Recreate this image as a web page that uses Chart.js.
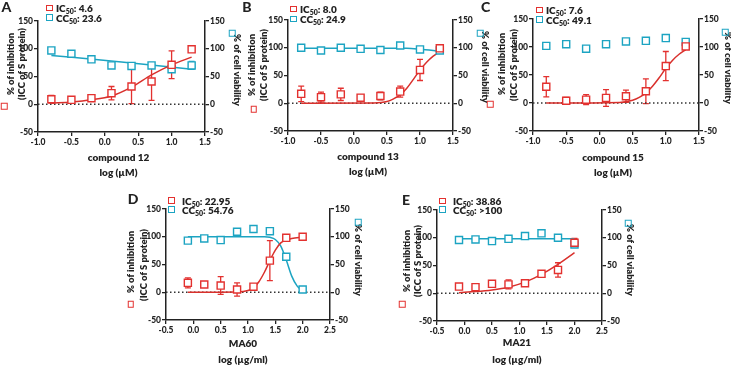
<!DOCTYPE html>
<html lang="en">
<head>
<meta charset="UTF-8" />
<title>IC50 / CC50 panels</title>
<script src="https://cdn.jsdelivr.net/npm/chart.js"></script>
<style>
  body { margin:0; width:731px; height:366px; position:relative; overflow:hidden; background:#fff;
         font-family: Lato, 'Open Sans', sans-serif; font-weight:800; color:#222; }
  canvas { position:absolute; z-index:1; }
  .t, .vl, .vr, .let, .lg, .sq { z-index:2; }
  .t  { position:absolute; white-space:nowrap; transform:translate(-50%,-50%); font-size:10px; line-height:11px; }
  .vl { position:absolute; white-space:nowrap; transform:translate(-50%,-50%) rotate(-90deg); font-size:9.5px; line-height:10px; }
  .vr { position:absolute; white-space:nowrap; transform:translate(-50%,-50%) rotate(90deg); font-size:9.5px; line-height:10px; }
  .let { position:absolute; font-size:14px; font-weight:900; transform:translate(-50%,-50%); }
  .lg { position:absolute; white-space:nowrap; font-size:10px; line-height:10px; height:10px; }
  .lg b { position:absolute; left:0; top:1.5px; width:4.5px; height:4.5px; border-width:1.4px; border-style:solid; }
  .lg span { position:absolute; left:10px; top:0; }
  .lg.w span { left:14px; }
  .sq { position:absolute; width:4.5px; height:4.5px; border-width:1.4px; border-style:solid; transform:translate(-50%,-50%); }
  .r { border-color:#e3312f; }
  .c { border-color:#1ca4c2; }
  sub { font-size:7px; vertical-align:-2px; line-height:0; }
</style>
</head>
<body>
  <!-- panel letters -->
  <div class="let" style="left:6.5px;top:6px">A</div>
  <div class="let" style="left:247px;top:6px">B</div>
  <div class="let" style="left:485.5px;top:6px">C</div>
  <div class="let" style="left:133px;top:197.5px">D</div>
  <div class="let" style="left:406px;top:199px">E</div>

  <!-- legends (top = centre - 5) -->
  <div class="lg" style="left:46px;top:3px"><b class="r"></b><span>IC<sub>50</sub>: 4.6</span></div>
  <div class="lg" style="left:46px;top:12.5px"><b class="c"></b><span>CC<sub>50</sub>: 23.6</span></div>
  <div class="lg" style="left:290px;top:4px"><b class="r"></b><span>IC<sub>50</sub>: 8.0</span></div>
  <div class="lg" style="left:290px;top:14px"><b class="c"></b><span>CC<sub>50</sub>: 24.9</span></div>
  <div class="lg" style="left:536px;top:5px"><b class="r"></b><span>IC<sub>50</sub>: 7.6</span></div>
  <div class="lg" style="left:536px;top:14.5px"><b class="c"></b><span>CC<sub>50</sub>: 49.1</span></div>
  <div class="lg w" style="left:168px;top:195.5px"><b class="r"></b><span>IC<sub>50</sub>: 22.95</span></div>
  <div class="lg w" style="left:168px;top:204.5px"><b class="c"></b><span>CC<sub>50</sub>: 54.76</span></div>
  <div class="lg w" style="left:439px;top:196px"><b class="r"></b><span>IC<sub>50</sub>: 38.86</span></div>
  <div class="lg w" style="left:439px;top:204.5px"><b class="c"></b><span>CC<sub>50</sub>: &gt;100</span></div>

  <!-- left axis titles -->
  <div class="vl" style="left:11px;top:64px">% of inhibition</div>
  <div class="vl" style="left:22px;top:64px">(ICC of S protein)</div>
  <div class="sq r" style="left:4px;top:106px"></div>
  <div class="vl" style="left:251.5px;top:65px">% of inhibition</div>
  <div class="vl" style="left:263.5px;top:65px">(ICC of S protein)</div>
  <div class="sq r" style="left:253.5px;top:109px"></div>
  <div class="vl" style="left:501.5px;top:64px">% of inhibition</div>
  <div class="vl" style="left:513.5px;top:65px">(ICC of S protein)</div>
  <div class="sq r" style="left:490px;top:104px"></div>
  <div class="vl" style="left:131px;top:262px">% of inhibition</div>
  <div class="vl" style="left:144px;top:265px">(ICC of S protein)</div>
  <div class="sq r" style="left:130.5px;top:304px"></div>
  <div class="vl" style="left:407px;top:261px">% of inhibition</div>
  <div class="vl" style="left:418px;top:261px">(ICC of S protein)</div>
  <div class="sq r" style="left:402px;top:304px"></div>

  <!-- right axis titles -->
  <div class="vr" style="left:237px;top:70px">% of cell viability</div>
  <div class="sq c" style="left:232px;top:33px"></div>
  <div class="vr" style="left:485px;top:67px">% of cell viability</div>
  <div class="sq c" style="left:480px;top:33px"></div>
  <div class="vr" style="left:728px;top:68px">% of cell viability</div>
  <div class="sq c" style="left:725px;top:32px"></div>
  <div class="vr" style="left:358px;top:260px">% of cell viability</div>
  <div class="sq c" style="left:358px;top:222px"></div>
  <div class="vr" style="left:630px;top:260px">% of cell viability</div>
  <div class="sq c" style="left:628px;top:223px"></div>

  <!-- x axis titles -->
  <div class="t" style="left:118.5px;top:157px">compound 12</div>
  <div class="t" style="left:118.5px;top:171.5px">log (µM)</div>
  <div class="t" style="left:368px;top:155.5px">compound 13</div>
  <div class="t" style="left:368px;top:170.5px">log (µM)</div>
  <div class="t" style="left:613px;top:157px">compound 15</div>
  <div class="t" style="left:613px;top:172px">log (µM)</div>
  <div class="t" style="left:243px;top:343px">MA60</div>
  <div class="t" style="left:243px;top:359px">log (µg/ml)</div>
  <div class="t" style="left:517px;top:342px">MA21</div>
  <div class="t" style="left:517px;top:359px">log (µg/ml)</div>

<script>
  // ---- data ----
  const xUM  = [-0.8, -0.5, -0.2, 0.1, 0.4, 0.7, 1.0, 1.3];   // log(µM), compounds
  const xUGML = [-0.1, 0.2, 0.5, 0.8, 1.1, 1.4, 1.7, 2.0];   // log(µg/ml), MA60 / MA21

  // compound 12
  const icA    = [9, 8, 11, 20, 32, 41, 71, 99];
  const icErrA = [7, 3, 4, 12, 31, 34, 25, 0];
  const ccA    = [97, 91, 81, 70, 69, 70, 63, 70];
  const ccErrA = [0, 0, 0, 0, 0, 0, 4, 7];
  const icFitXA = [-0.8, -0.5, -0.2, 0.1, 0.4, 0.7, 1.0, 1.3];
  const icFitYA = [2, 4, 8, 15, 31, 53, 71, 85];
  const ccFitXA = [-0.8, 0.25, 1.3];
  const ccFitYA = [88, 76, 63];

  // compound 13
  const icB    = [17, 11, 16, 10, 13, 21, 60, 99];
  const icErrB = [14, 9, 11, 5, 7, 10, 19, 3];
  const ccB    = [100, 95, 100, 98, 96, 104, 97, 95];
  const ccErrB = [0, 0, 2, 2, 3, 0, 0, 0];
  const icFitXB = [-0.8, 0.3, 0.5, 0.6, 0.7, 0.8, 0.9, 1.0, 1.1, 1.2, 1.3];
  const icFitYB = [0, 0.5, 3, 8, 15, 27, 43, 60, 74, 85, 93];
  const ccFitXB = [-0.8, 0.8, 1.0, 1.3];
  const ccFitYB = [99, 99, 97.5, 94];

  // compound 15
  const icC    = [29, 4, 6, 9, 12, 21, 66, 101];
  const icErrC = [18, 6, 9, 15, 11, 22, 26, 3];
  const ccC    = [102, 105, 97, 105, 110, 111, 116, 109];
  const icFitXC = [-0.8, 0.3, 0.5, 0.6, 0.7, 0.8, 0.9, 1.0, 1.1, 1.2, 1.3];
  const icFitYC = [0, 1, 5, 10, 18, 30, 45, 62, 76, 87, 95];

  // MA60
  const icD    = [17, 14, 12, 5, 10, 57, 98, 100];
  const icErrD = [9, 2, 16, 12, 3, 36, 2, 1];
  const ccD    = [93, 97, 94, 109, 114, 110, 64, 5];
  const icFitXD = [-0.1, 0.8, 1.0, 1.1, 1.2, 1.3, 1.4, 1.5, 1.6, 1.7, 1.8, 2.0];
  const icFitYD = [0, 0.5, 3, 8, 19, 36, 57, 76, 89, 94, 97, 99.5];
  const ccFitXD = [-0.1, 1.3, 1.4, 1.5, 1.6, 1.7, 1.8, 1.9, 2.0];
  const ccFitYD = [100, 100, 99, 95, 83, 58, 29, 11, 3];

  // MA21
  const icE    = [12, 11, 17, 16, 18, 35, 42, 91];
  const icErrE = [2, 2, 5, 8, 2, 2, 13, 8];
  const ccE    = [96, 97, 94, 98, 103, 108, 100, 88];
  const ccErrE = [0, 0, 3, 0, 0, 0, 0, 3];
  const icFitXE = [-0.1, 0.2, 0.5, 0.8, 1.1, 1.4, 1.7, 2.0];
  const icFitYE = [1, 3, 6, 11, 20, 34, 52, 73];
  const ccFitXE = [-0.1, 2.0];
  const ccFitYE = [98, 98];

  const yRange = [-50, 150];
  const xRangeUM = [-1.0, 1.5];
  const xRangeUGML = [-0.5, 2.5];

  // ---- styles ----
  const AX = '#222';
  const RED = '#e3312f';
  const RED_LINE = '#d9302c';
  const CYAN = '#1ca4c2';
  const TICK_FONT = { family: 'Lato', weight: '900', size: 8.5 };

  const pts = (xs, ys) => xs.map((x, i) => ({ x: x, y: ys[i] }));

  // error bars, drawn under the markers
  const errBars = {
    id: 'errBars',
    beforeDatasetsDraw(chart) {
      const ctx = chart.ctx;
      chart.data.datasets.forEach(ds => {
        if (!ds.errs) return;
        const xs = chart.scales.x, ys = chart.scales[ds.yAxisID];
        ctx.save();
        ctx.strokeStyle = ds.borderColor;
        ctx.lineWidth = 1.3;
        ds.data.forEach((p, j) => {
          const e = ds.errs[j];
          if (!e) return;
          const px = xs.getPixelForValue(p.x);
          const y1 = ys.getPixelForValue(p.y + e), y2 = ys.getPixelForValue(p.y - e);
          ctx.beginPath();
          ctx.moveTo(px, y1); ctx.lineTo(px, y2);
          ctx.moveTo(px - 3, y1); ctx.lineTo(px + 3, y1);
          ctx.moveTo(px - 3, y2); ctx.lineTo(px + 3, y2);
          ctx.stroke();
        });
        ctx.restore();
      });
    }
  };

  function axisY(pos) {
    return {
      type: 'linear', position: pos, min: yRange[0], max: yRange[1],
      ticks: { stepSize: 50, color: AX, padding: 1, font: TICK_FONT },
      grid: { drawOnChartArea: false, drawTicks: true, tickLength: 4, color: AX, lineWidth: 1.3 },
      border: { display: true, color: AX, width: 1.5 },
      afterFit(s) { s.width = 40; }
    };
  }

  function panel(box, xr, xs, ic, icErr, cc, ccErr, icFit, ccFit) {
    const c = document.createElement('canvas');
    const W = box.R - box.L + 80, H = box.B - box.T + 24;
    c.width = W; c.height = H;
    c.style.left = (box.L - 40) + 'px';
    c.style.top = (box.T - 8) + 'px';
    document.body.appendChild(c);

    const datasets = [
      { data: pts(xs, ic), errs: icErr, yAxisID: 'y', borderColor: RED, backgroundColor: '#fff',
        pointStyle: 'rect', pointRadius: 5, pointBorderWidth: 1.4, showLine: false },
      { data: pts(xs, cc), errs: ccErr, yAxisID: 'y2', borderColor: CYAN, backgroundColor: '#fff',
        pointStyle: 'rect', pointRadius: 5, pointBorderWidth: 1.4, showLine: false },
      { data: icFit, yAxisID: 'y', borderColor: RED_LINE, borderWidth: 1.5, pointRadius: 0,
        showLine: true, cubicInterpolationMode: 'monotone' }
    ];
    if (ccFit) datasets.push({ data: ccFit, yAxisID: 'y2', borderColor: CYAN, borderWidth: 1.5,
      pointRadius: 0, showLine: true, cubicInterpolationMode: 'monotone' });
    datasets.push({ data: [{ x: xr[0], y: 0 }, { x: xr[1], y: 0 }], yAxisID: 'y', borderColor: '#333',
      borderWidth: 1.3, borderDash: [1.5, 2.5], pointRadius: 0, showLine: true });

    new Chart(c.getContext('2d'), {
      type: 'scatter',
      data: { datasets: datasets },
      options: {
        responsive: false, animation: false,
        layout: { padding: { top: 8, left: 0, right: 0, bottom: 0 } },
        plugins: { legend: { display: false }, tooltip: { enabled: false } },
        scales: {
          x: {
            type: 'linear', min: xr[0], max: xr[1],
            ticks: { stepSize: 0.5, autoSkip: false, maxRotation: 0, color: AX, padding: 1,
                     font: TICK_FONT, callback: v => v.toFixed(1) },
            grid: { drawOnChartArea: false, drawTicks: true, tickLength: 4, color: AX, lineWidth: 1.3 },
            border: { display: true, color: AX, width: 1.5 },
            afterFit(s) { s.height = 16; }
          },
          y: axisY('left'),
          y2: axisY('right')
        }
      },
      plugins: [errBars]
    });
  }

  panel({ L: 38, T: 21, R: 205, B: 132 }, xRangeUM, xUM, icA, icErrA, ccA, ccErrA,
        pts(icFitXA, icFitYA), pts(ccFitXA, ccFitYA));
  panel({ L: 288, T: 20, R: 453, B: 131 }, xRangeUM, xUM, icB, icErrB, ccB, ccErrB,
        pts(icFitXB, icFitYB), pts(ccFitXB, ccFitYB));
  panel({ L: 533, T: 19, R: 699, B: 131 }, xRangeUM, xUM, icC, icErrC, ccC, null,
        pts(icFitXC, icFitYC), null);
  panel({ L: 166, T: 209, R: 330, B: 320 }, xRangeUGML, xUGML, icD, icErrD, ccD, null,
        pts(icFitXD, icFitYD), pts(ccFitXD, ccFitYD));
  panel({ L: 437, T: 210, R: 602, B: 321 }, xRangeUGML, xUGML, icE, icErrE, ccE, ccErrE,
        pts(icFitXE, icFitYE), pts(ccFitXE, ccFitYE));
</script>
</body>
</html>
